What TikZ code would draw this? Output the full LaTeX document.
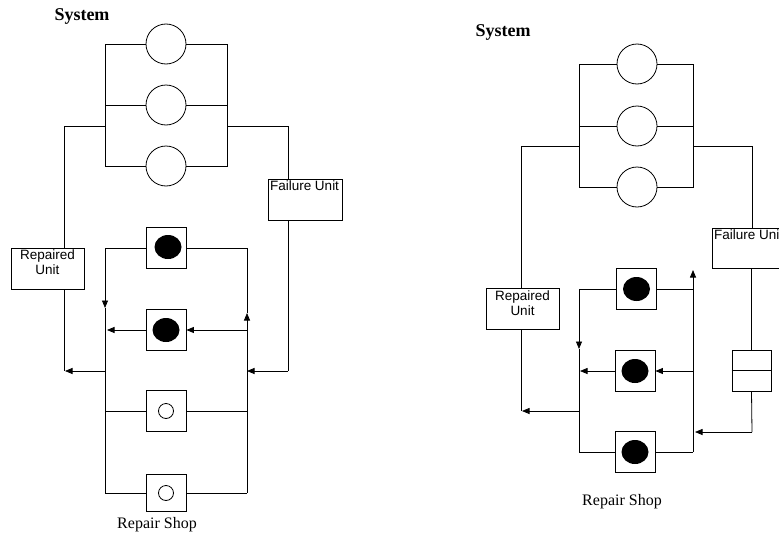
\documentclass[tikz,border=0pt]{standalone}
\usepackage{fontspec}
\setmainfont{Liberation Serif}
\newfontfamily\sansf{Liberation Sans}
\usetikzlibrary{arrows.meta,shapes.geometric}
\begin{document}
\begin{tikzpicture}[x=1pt,y=-1pt,line width=0.8pt,
  title/.style={font=\fontsize{18}{20}\selectfont\bfseries, inner sep=0pt},
  shoplbl/.style={font=\fontsize{16}{18}\selectfont, inner sep=0pt},
  unit/.style={circle, draw, minimum size=40pt, inner sep=0pt},
  shopbox/.style={draw, minimum width=40pt, minimum height=41pt, inner sep=0pt},
  full/.style={ellipse, fill=black, minimum width=27pt, minimum height=24pt, inner sep=0pt},
  hollow/.style={circle, draw, minimum size=15pt, inner sep=0pt},
  lbox/.style={draw, minimum width=73pt, minimum height=41pt, inner sep=0pt},
  boxtext/.style={anchor=north, inner sep=2pt, align=center, font=\sansf\fontsize{13.5}{15}\selectfont},
  arr/.style={-{Triangle[length=7.5pt,width=6pt]}}]
\useasboundingbox (0,0) rectangle (779,538);
\clip (0,0) rectangle (779,538);

%================ LEFT =================
\node[title] (sysA) at (82,16) {System};
\node[unit] (a1) at (166,44) {};
\node[unit] (a2) at (166,105) {};
\node[unit] (a3) at (166,166) {};
\coordinate (aL1) at (105,44);  \coordinate (aR1) at (227,44);
\coordinate (aL3) at (105,166); \coordinate (aR3) at (227,166);
\coordinate (aLb) at (105,126); \coordinate (aRb) at (227,126);
\coordinate (aRepX) at (64,126); \coordinate (aFailX) at (288,126);
\draw (a1.west) -- (aL1) -- (aL3) -- (a3.west);
\draw (a1.east) -- (aR1) -- (aR3) -- (a3.east);
\draw (a2.west) -- (aL1 |- a2.west);
\draw (a2.east) -- (aR1 |- a2.east);

\node[lbox, label={[boxtext]north:Repaired\\Unit}] (repA) at (47.5,268.5) {};
\node[lbox, minimum width=74pt, label={[boxtext, anchor=north west]north west:Failure Unit}] (failA) at (305,199.5) {};
\draw (aLb) -- (aRepX) -- (aRepX |- repA.north);
\draw (aRb) -- (aFailX) -- (aFailX |- failA.north);

% repair shop
\node[shopbox] (sa1) at (166,248) {};
\node[full] (fa1) at (168,247) {};
\node[shopbox] (sa2) at (166,330) {};
\node[full] (fa2) at (166,330) {};
\node[shopbox] (sa3) at (166,411) {};
\node[hollow] (ha3) at (166,411) {};
\node[shopbox, minimum height=37pt] (sa4) at (166,493) {};
\node[hollow] (ha4) at (166,493) {};
\coordinate (sL1) at (105,248); \coordinate (sR1) at (247,248);
\coordinate (sL4) at (105,493); \coordinate (sR4) at (247,493);
\coordinate (sLd) at (105,308); \coordinate (sRu) at (247,313);
\coordinate (sLm) at (105,371); \coordinate (sRm) at (247,371);
\coordinate (repAc) at (64,371); \coordinate (failAc) at (288,371);
\draw (sL1) -- (sa1.west);
\draw (sa1.east) -- (sR1);
\draw[arr] (sL1) -- (sLd);
\draw (sLd) -- (sL4);
\draw[arr] (sR4) -- (sRu);
\draw (sRu) -- (sR1);
\draw[arr] (sR1 |- sa2.east) -- (sa2.east);
\draw[arr] (sa2.west) -- ([xshift=2pt]sL1 |- sa2.west);
\draw (sL1 |- sa3.west) -- (sa3.west);
\draw (sa3.east) -- (sR1 |- sa3.east);
\draw (sL4) -- (sa4.west);
\draw (sa4.east) -- (sR4);
\draw (repA.south -| repAc) -- (repAc);
\draw[arr] (sLm) -- ([xshift=1pt]repAc);
\draw (failA.south -| failAc) -- (failAc);
\draw[arr] (failAc) -- (sRm);
\node[shoplbl] (shopA) at (157,525) {Repair Shop};

%================ RIGHT =================
\node[title] (sysB) at (503,32) {System};
\node[unit] (b1) at (637,64) {};
\node[unit] (b2) at (637,126) {};
\node[unit] (b3) at (637,187) {};
\coordinate (bL1) at (579,64);  \coordinate (bR1) at (693,64);
\coordinate (bL3) at (579,187); \coordinate (bR3) at (693,187);
\coordinate (bLb) at (579,146); \coordinate (bRb) at (693,146);
\coordinate (bRepX) at (521,146); \coordinate (bFailX) at (752,146);
\draw (b1.west) -- (bL1) -- (bL3) -- (b3.west);
\draw (b1.east) -- (bR1) -- (bR3) -- (b3.east);
\draw (b2.west) -- (bL1 |- b2.west);
\draw (b2.east) -- (bR1 |- b2.east);

\node[lbox, label={[boxtext]north:Repaired\\Unit}] (repB) at (522.5,309) {};
\node[lbox, minimum width=74pt, minimum height=40pt, label={[boxtext, anchor=north west]north west:Failure Unit}] (failB) at (749,248) {};
\draw (bLb) -- (bRepX) -- (bRepX |- repB.north);
\draw (bRb) -- (bFailX) -- (bFailX |- failB.north);

\node[draw, minimum width=39pt, minimum height=41pt, inner sep=0pt] (queue) at (751.5,370.5) {};
\draw (queue.west) -- (queue.east);

\node[shopbox] (tb1) at (636.5,289) {};
\node[full] (gb1) at (636.5,289) {};
\node[shopbox] (tb2) at (635,371) {};
\node[full] (gb2) at (635,371) {};
\node[shopbox] (tb3) at (635,452) {};
\node[full] (gb3) at (635,452) {};
\coordinate (tL1) at (579,289); \coordinate (tR1) at (693,289);
\coordinate (tL3) at (579,452); \coordinate (tR3) at (693,452);
\coordinate (tRtop) at (693,270); \coordinate (tLd) at (579,349);
\coordinate (tLm) at (579,411); \coordinate (repBc) at (521,411);
\coordinate (qc) at (752,432); \coordinate (tRm) at (693,432);
\draw (tL1) -- (tb1.west);
\draw (tb1.east) -- (tR1);
\draw[arr] (tL1) -- (tLd);
\draw (tLd) -- (tL3);
\draw[arr] (tR3) -- (tRtop);
\draw[arr] (tR1 |- tb2.east) -- (tb2.east);
\draw[arr] (tb2.west) -- ([xshift=1pt]tL1 |- tb2.west);
\draw (tL3) -- (tb3.west);
\draw (tb3.east) -- (tR3);
\draw (repB.south -| repBc) -- (repBc);
\draw[arr] (tLm) -- ([xshift=1pt]repBc);
\draw (failB.south -| queue.north) -- (queue.north);
\draw (queue.south) -- (qc);
\draw[arr] (qc) -- ([xshift=2pt]tRm);
\node[shoplbl] (shopB) at (622,502) {Repair Shop};
\end{tikzpicture}
\end{document}
